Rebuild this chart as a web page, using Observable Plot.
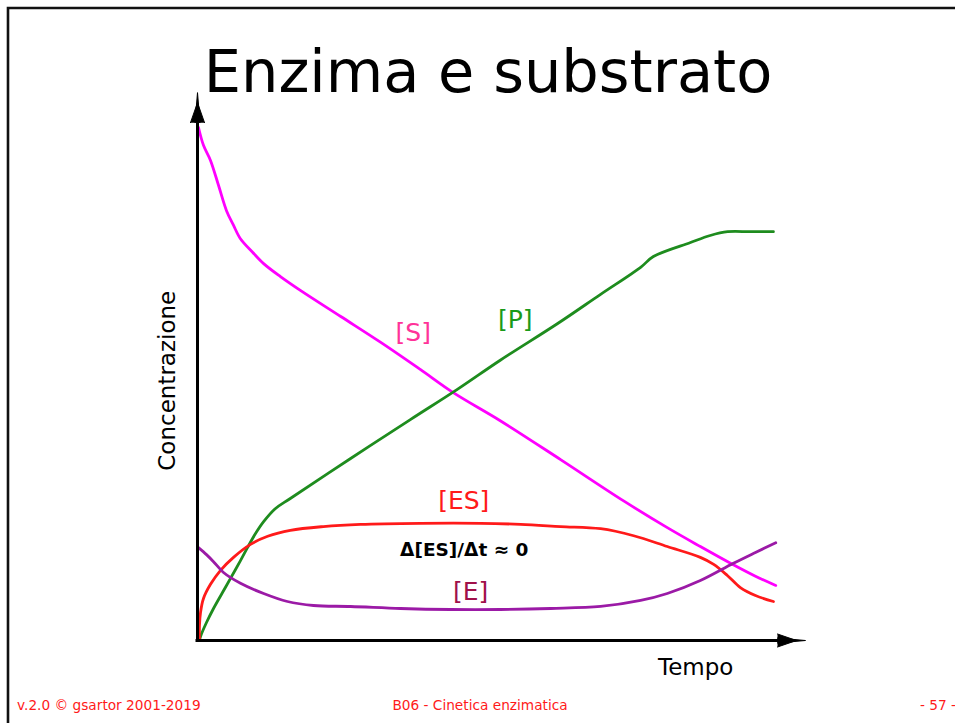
<!DOCTYPE html>
<html><head><meta charset="utf-8">
<script src="https://cdn.jsdelivr.net/npm/d3@7"></script>
<script src="https://cdn.jsdelivr.net/npm/@observablehq/plot@0.6"></script>
<style>html,body{margin:0;padding:0;background:#fff;overflow:hidden}</style>
</head><body><div id="chart"></div>
<script>
// ---- data (time and concentration, arbitrary units 0-100) ----
const sTime = [0.17,1.03,2.24,3.62,5.0,6.2,7.4,9.5,11.4,14.3,17.8,24.7,31.6,38.4,44.1,52.2,62.6,73.4,81.0,86.7,91.9,96.2,99.7];
const sConc = [95.0,91.7,88.9,84.3,79.6,76.9,74.4,71.9,69.8,67.4,64.8,60.0,55.2,50.2,45.9,40.7,33.5,25.9,20.9,17.4,14.3,11.9,10.2];

const pTime = [0.34,0.52,1.55,2.76,4.31,5.69,7.41,8.62,10.0,11.4,13.4,16.0,26.4,36.7,44.8,52.2,62.1,69.5,76.4,78.6,85.0,88.4,91.4,95.3,99.3];
const pConc = [0,0.74,3.33,5.93,8.89,11.5,14.8,17.2,19.8,22.0,24.4,26.3,33.7,40.9,46.5,51.9,58.7,64.1,69.1,71.1,73.7,75.0,75.7,75.7,75.7];

const esTime = [0.34,0.34,0.52,1.03,2.24,3.97,6.21,9.14,12.1,16.0,21.7,28.1,38.4,48.8,55.7,62.6,69.5,75.2,81.0,86.7,89.0,91.4,93.6,96.2,99.3];
const esConc = [0,2.78,5.19,7.78,10.4,13.0,15.4,17.8,19.3,20.4,21.1,21.5,21.7,21.7,21.5,21.1,20.7,19.4,17.4,15.4,14.1,12.0,9.81,8.33,7.22];

const eTime = [0.17,1.55,2.76,4.48,7.41,11.4,15.5,20.0,26.4,35.0,43.6,52.2,60.9,69.5,76.4,81.0,86.7,92.4,96.2,99.7];
const eConc = [17.2,15.9,14.6,12.6,10.6,8.70,7.22,6.48,6.30,5.93,5.74,5.74,5.93,6.30,7.41,8.70,11.1,14.3,16.3,18.1];

const labelText = ["[S]", "[P]", "[ES]", "[E]"];
const labelX = [37.2, 54.8, 45.9, 47.1];
const labelY = [56.9, 59.3, 25.9, 8.9];
const lineColors = ["#ff00ff", "#1e8c1e", "#ff1a1a", "#9b1aa6"];
const labelColors = ["#ff3399", "#1a9a1a", "#ff1a1a", "#a0104a"];

const noteText = ["Δ[ES]/Δt ≈ 0"];
const noteX = [46.0];
const noteY = [16.7];

const axisTitleText = ["Concentrazione", "Tempo"];
const axisTitleX = [-5.17, 85.9];
const axisTitleY = [48.1, -5.0];

const yAxisEnd = 95.9, xAxisEnd = 100;

// ---- tables ----
const zip = (t, c) => t.map((v, i) => ({t: v, c: c[i]}));
const series = [zip(sTime, sConc), zip(pTime, pConc), zip(esTime, esConc), zip(eTime, eConc)];
const labels = labelText.map((s, i) => ({s, x: labelX[i], y: labelY[i], color: labelColors[i]}));
const notes = noteText.map((s, i) => ({s, x: noteX[i], y: noteY[i]}));

const head = {shape: "spike", anchor: "start", fill: "black", stroke: "black", strokeWidth: 1};

const plot = Plot.plot({
  width: 955, height: 723,
  marginLeft: 197, marginRight: 178, marginTop: 100, marginBottom: 83,
  x: {domain: [0, 100], axis: null},
  y: {domain: [0, 100], axis: null},
  style: {fontFamily: "'DejaVu Sans', Verdana, sans-serif", background: "white", overflow: "visible"},
  marks: [
    ...series.map((d, i) => Plot.line(d, {x: "t", y: "c", stroke: lineColors[i], strokeWidth: 2.8, curve: "catmull-rom"})),
    Plot.ruleX([{x: 0, y1: 0, y2: yAxisEnd}], {x: "x", y1: "y1", y2: "y2", stroke: "black", strokeWidth: 3}),
    Plot.ruleY([{y: 0, x1: 0, x2: xAxisEnd}], {y: "y", x1: "x1", x2: "x2", stroke: "black", strokeWidth: 3, strokeLinecap: "square"}),
    Plot.vector([{x: 0, y: yAxisEnd}], {x: "x", y: "y", length: 20, rotate: 0, r: 7, ...head}),
    Plot.vector([{x: 0, y: yAxisEnd}], {x: "x", y: "y", length: 30, rotate: 0, r: 2.5, ...head}),
    Plot.vector([{x: xAxisEnd, y: 0}], {x: "x", y: "y", length: 19, rotate: 90, r: 6.5, ...head}),
    Plot.vector([{x: xAxisEnd, y: 0}], {x: "x", y: "y", length: 28, rotate: 90, r: 2.5, ...head}),
    Plot.text(labels, {x: "x", y: "y", text: "s", fill: "color", fontSize: 25}),
    Plot.text(notes, {x: "x", y: "y", text: "s", fill: "black", fontSize: 18.5, fontWeight: "bold"}),
    Plot.text([{s: axisTitleText[0], x: axisTitleX[0], y: axisTitleY[0]}], {x: "x", y: "y", text: "s", rotate: -90, fontSize: 23, fill: "black"}),
    Plot.text([{s: axisTitleText[1], x: axisTitleX[1], y: axisTitleY[1]}], {x: "x", y: "y", text: "s", fontSize: 23, fill: "black"})
  ]
});

const svg = d3.select(plot);
svg.append("path").attr("d", "M8,723V8H955").attr("fill", "none").attr("stroke", "#111").attr("stroke-width", 2.6);
svg.append("text").attr("x", 488).attr("y", 92).attr("text-anchor", "middle")
  .style("font-family", "'DejaVu Sans', Verdana, sans-serif").style("font-size", "59px").attr("fill", "black")
  .text("Enzima e substrato");
const footer = [["v.2.0 © gsartor 2001-2019", 17, "start"], ["B06 - Cinetica enzimatica", 480, "middle"], ["- 57 -", 920, "start"]];
footer.forEach(([t, x, a]) => svg.append("text").attr("x", x).attr("y", 710).attr("text-anchor", a)
  .style("font-family", "'DejaVu Sans', Verdana, sans-serif").style("font-size", "13.7px").attr("fill", "#ff1a1a").text(t));

document.getElementById("chart").append(plot);
</script></body></html>
